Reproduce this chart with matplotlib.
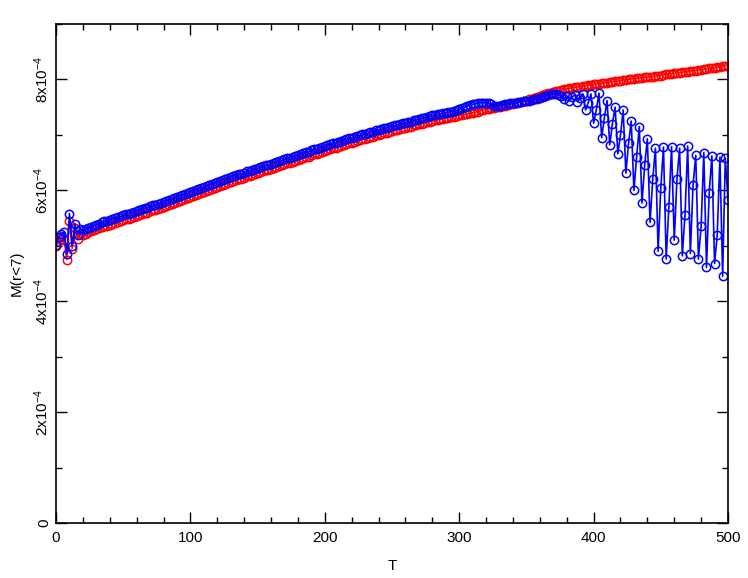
import numpy as np
import matplotlib
matplotlib.use("Agg")
import matplotlib.pyplot as plt
from matplotlib.ticker import MultipleLocator

plt.rcParams['font.family'] = ['Liberation Sans', 'DejaVu Sans']
plt.rcParams['mathtext.default'] = 'regular'

# time grid (step 2) and M(r<7) in units of 1e-4
t = np.arange(0, 501, 2)

m_red = [5.00,
         5.08, 5.15, 5.10, 4.75, 5.45,
         4.95, 5.32, 5.12, 5.22, 5.20,
         5.22, 5.24, 5.26, 5.28, 5.30,
         5.32, 5.33, 5.35, 5.36, 5.38,
         5.40, 5.41, 5.43, 5.44, 5.46,
         5.48, 5.49, 5.51, 5.52, 5.54,
         5.56, 5.57, 5.59, 5.60, 5.62,
         5.64, 5.65, 5.67, 5.68, 5.70,
         5.72, 5.74, 5.75, 5.77, 5.79,
         5.81, 5.83, 5.84, 5.86, 5.88,
         5.90, 5.92, 5.93, 5.95, 5.97,
         5.99, 6.01, 6.02, 6.04, 6.06,
         6.08, 6.10, 6.11, 6.13, 6.15,
         6.17, 6.18, 6.20, 6.21, 6.23,
         6.25, 6.26, 6.28, 6.29, 6.31,
         6.33, 6.34, 6.36, 6.37, 6.39,
         6.41, 6.42, 6.44, 6.45, 6.47,
         6.49, 6.50, 6.52, 6.53, 6.55,
         6.57, 6.58, 6.60, 6.61, 6.63,
         6.65, 6.66, 6.68, 6.69, 6.71,
         6.73, 6.74, 6.76, 6.77, 6.79,
         6.80, 6.82, 6.83, 6.85, 6.86,
         6.87, 6.89, 6.90, 6.92, 6.93,
         6.94, 6.96, 6.97, 6.99, 7.00,
         7.01, 7.03, 7.04, 7.06, 7.07,
         7.08, 7.09, 7.11, 7.12, 7.13,
         7.14, 7.15, 7.17, 7.18, 7.19,
         7.20, 7.21, 7.23, 7.24, 7.25,
         7.26, 7.27, 7.28, 7.29, 7.30,
         7.31, 7.32, 7.33, 7.34, 7.35,
         7.36, 7.37, 7.38, 7.39, 7.40,
         7.41, 7.42, 7.44, 7.45, 7.46,
         7.47, 7.48, 7.49, 7.50, 7.51,
         7.52, 7.53, 7.54, 7.55, 7.56,
         7.57, 7.58, 7.60, 7.61, 7.62,
         7.64, 7.65, 7.67, 7.68, 7.70,
         7.72, 7.73, 7.75, 7.76, 7.78,
         7.79, 7.80, 7.81, 7.82, 7.83,
         7.84, 7.85, 7.86, 7.86, 7.87,
         7.88, 7.89, 7.90, 7.90, 7.91,
         7.92, 7.92, 7.93, 7.94, 7.94,
         7.95, 7.96, 7.97, 7.97, 7.98,
         7.99, 7.99, 8.00, 8.01, 8.01,
         8.02, 8.02, 8.03, 8.04, 8.04,
         8.05, 8.05, 8.06, 8.07, 8.07,
         8.08, 8.09, 8.10, 8.10, 8.11,
         8.12, 8.12, 8.13, 8.14, 8.14,
         8.15, 8.16, 8.16, 8.17, 8.17,
         8.18, 8.19, 8.20, 8.20, 8.21,
         8.22, 8.23, 8.24, 8.24, 8.25]

m_blue = [5.02,
          5.15, 5.22, 5.25, 4.85, 5.58,
          5.00, 5.40, 5.20, 5.30, 5.28,
          5.30, 5.32, 5.34, 5.36, 5.38,
          5.40, 5.42, 5.44, 5.45, 5.47,
          5.49, 5.50, 5.52, 5.53, 5.55,
          5.57, 5.58, 5.60, 5.61, 5.63,
          5.65, 5.66, 5.68, 5.69, 5.71,
          5.73, 5.74, 5.76, 5.77, 5.79,
          5.81, 5.83, 5.84, 5.86, 5.88,
          5.90, 5.92, 5.93, 5.95, 5.97,
          5.99, 6.01, 6.02, 6.04, 6.06,
          6.08, 6.10, 6.11, 6.13, 6.15,
          6.17, 6.19, 6.20, 6.22, 6.24,
          6.26, 6.27, 6.29, 6.30, 6.32,
          6.34, 6.35, 6.37, 6.38, 6.40,
          6.42, 6.43, 6.45, 6.46, 6.48,
          6.50, 6.51, 6.53, 6.54, 6.56,
          6.58, 6.59, 6.61, 6.62, 6.64,
          6.66, 6.67, 6.69, 6.70, 6.72,
          6.74, 6.75, 6.77, 6.78, 6.80,
          6.82, 6.83, 6.85, 6.86, 6.88,
          6.89, 6.91, 6.92, 6.94, 6.95,
          6.96, 6.98, 6.99, 7.01, 7.02,
          7.03, 7.05, 7.06, 7.08, 7.09,
          7.10, 7.12, 7.13, 7.15, 7.16,
          7.17, 7.18, 7.20, 7.21, 7.22,
          7.23, 7.24, 7.26, 7.27, 7.29,
          7.30, 7.31, 7.33, 7.34, 7.35,
          7.36, 7.37, 7.38, 7.39, 7.40,
          7.41, 7.42, 7.43, 7.44, 7.46,
          7.48, 7.50, 7.52, 7.54, 7.55,
          7.56, 7.57, 7.58, 7.58, 7.58,
          7.57, 7.55, 7.53, 7.53, 7.53,
          7.54, 7.55, 7.56, 7.57, 7.57,
          7.58, 7.59, 7.60, 7.61, 7.61,
          7.62, 7.63, 7.64, 7.65, 7.66,
          7.68, 7.70, 7.72, 7.73, 7.74,
          7.74, 7.72, 7.70, 7.64, 7.70,
          7.62, 7.68, 7.72, 7.60, 7.66,
          7.74, 7.45, 7.58, 7.74, 7.21,
          7.45, 7.75, 6.95, 7.30, 7.62,
          6.82, 7.20, 7.50, 6.66, 7.00,
          7.45, 6.31, 6.85, 7.25, 6.00,
          6.60, 7.15, 5.77, 6.45, 6.93,
          5.42, 6.20, 6.76, 4.90, 6.05,
          6.78, 4.76, 5.70, 6.79, 5.10,
          6.20, 6.76, 4.82, 5.55, 6.80,
          4.86, 6.10, 6.63, 4.76, 5.35,
          6.68, 4.61, 5.95, 6.62, 4.68,
          5.20, 6.60, 4.45, 6.58, 5.82]

yticks = [0, 2, 4, 6, 8]
ytick_labels = ['0', '2x10$^{-4}$', '4x10$^{-4}$', '6x10$^{-4}$', '8x10$^{-4}$']

scale = 1e-4
red = np.array(m_red) * scale
blue = np.array(m_blue) * scale

fig = plt.figure(figsize=(7.48, 5.78), dpi=100)
ax = fig.add_axes([56 / 748, 55 / 578, 672 / 748, 499 / 578])

ax.plot(t, red, color='red', lw=1.0, marker='o', ms=6, mfc='none',
        mec='red', mew=1.1)
ax.plot(t, blue, color='blue', lw=1.2, marker='o', ms=6, mfc='none',
        mec='blue', mew=1.1)

ax.set_xlim(0, 500)
ax.set_ylim(0, 9e-4)
ax.xaxis.set_major_locator(MultipleLocator(100))
ax.xaxis.set_minor_locator(MultipleLocator(20))
ax.set_yticks([v * scale for v in yticks])
ax.set_yticklabels(ytick_labels, rotation=90, va='center')
ax.yaxis.set_minor_locator(MultipleLocator(1e-4))

ax.tick_params(which='both', direction='in', top=True, right=True,
               labelsize=11, width=1.0)
ax.tick_params(which='major', length=8)
ax.tick_params(which='minor', length=4)
ax.tick_params(axis='x', pad=6)
for s in ax.spines.values():
    s.set_linewidth(1.2)

ax.set_xlabel('T', fontsize=11, labelpad=10)
ax.set_ylabel('M(r<7)', fontsize=11, labelpad=6)

fig.savefig('out.png', dpi=100)
